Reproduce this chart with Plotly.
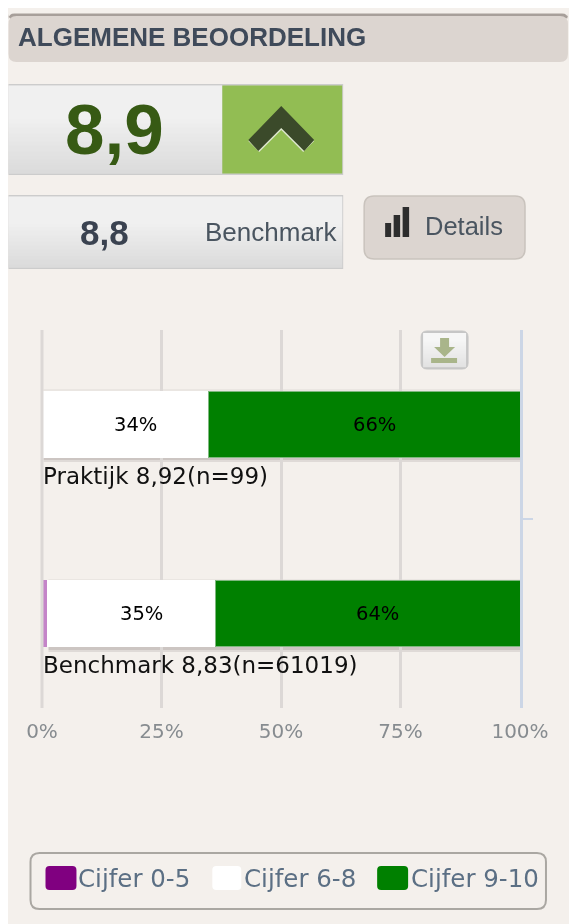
import plotly.graph_objects as go

categories = ["Praktijk", "Benchmark"]
category_labels = ["Praktijk 8,92(n=99)", "Benchmark 8,83(n=61019)"]
low = [0, 1.2]
mid = [34.9, 35.0]
high = [65.1, 63.8]
mid_labels = ["34%", "35%"]
high_labels = ["66%", "64%"]
x_ticks = [0, 25, 50, 75, 100]
x_tick_labels = ["0%", "25%", "50%", "75%", "100%"]
legend_names = ["Cijfer 0-5", "Cijfer 6-8", "Cijfer 9-10"]
legend_colors = ["#800080", "#ffffff", "#008000"]

OX, OY = 8, 8
W, H = 600, 940
PL, PR, PT, PB = 41.5, 520, 330, 708
ml, mt = PL - OX, PT - OY
pw, ph = PR - PL, PB - PT
BG = "#f4f0ec"


def X(p):
    return (p - PL) / pw


def Y(p):
    return 1 - (p - PT) / ph


shapes, ann = [], []


def rect(x0, y0, x1, y1, fill, line=None, lw=1, layer="below"):
    shapes.append(dict(type="rect", xref="paper", yref="paper", x0=X(x0), x1=X(x1), y0=Y(y0), y1=Y(y1),
                       fillcolor=fill, line=dict(color=line or "rgba(0,0,0,0)", width=lw if line else 0), layer=layer))


def path(points, fill, layer="above"):
    d = "M" + " L".join(f"{X(a):.5f},{Y(b):.5f}" for a, b in points) + " Z"
    shapes.append(dict(type="path", xref="paper", yref="paper", path=d, fillcolor=fill,
                       line=dict(width=0), layer=layer))


def round_rect(x0, y0, x1, y1, r, fill, line=None, lw=1, layer="below"):
    a = lambda p: f"{X(p):.5f}"
    b = lambda p: f"{Y(p):.5f}"
    d = (f"M{a(x0+r)},{b(y0)} L{a(x1-r)},{b(y0)} Q{a(x1)},{b(y0)} {a(x1)},{b(y0+r)} "
         f"L{a(x1)},{b(y1-r)} Q{a(x1)},{b(y1)} {a(x1-r)},{b(y1)} L{a(x0+r)},{b(y1)} "
         f"Q{a(x0)},{b(y1)} {a(x0)},{b(y1-r)} L{a(x0)},{b(y0+r)} Q{a(x0)},{b(y0)} {a(x0+r)},{b(y0)} Z")
    shapes.append(dict(type="path", xref="paper", yref="paper", path=d, fillcolor=fill,
                       line=dict(color=line or "rgba(0,0,0,0)", width=lw if line else 0), layer=layer))


def gradient(x0, y0, x1, y1, top=(246, 246, 246), bottom=(221, 221, 221), start=0.35, layer="below"):
    n = int(y1 - y0)
    for i in range(n):
        t = max(0, (i / max(n - 1, 1) - start) / (1 - start))
        c = tuple(round(top[k] + (bottom[k] - top[k]) * t) for k in range(3))
        rect(x0, y0 + i, x1, y0 + i + 1.2, f"rgb{c}", layer=layer)


def text(x, y, s, size, color, family="Liberation Sans", anchor="left", bold=False):
    ann.append(dict(xref="paper", yref="paper", x=X(x), y=Y(y), text=f"<b>{s}</b>" if bold else s,
                    showarrow=False, xanchor=anchor, yanchor="middle", borderpad=0,
                    font=dict(size=size, color=color, family=family)))


# Header
round_rect(8, 13.5, 568, 20, 6, "#a79f9a")
round_rect(8, 16, 568, 62, 8, "#dcd5d0")
text(16, 37, "ALGEMENE BEOORDELING", 26, "#3f4a5a", bold=True)

# Score box
rect(8, 84, 343, 175, "#cccccc")
gradient(8, 85.5, 222, 173.5)
rect(222, 85.5, 342, 173.5, "#92bd53")
text(114.5, 129, "8,9", 71, "#375a14", anchor="center", bold=True)
path([(248, 141), (259, 152), (281, 130), (303, 152), (314, 141), (281, 108)], "#dfe8cf")
path([(248, 140), (258, 151), (281, 128), (304, 151), (314, 140), (281, 106)], "#3b4a2a")

# Benchmark box
rect(8, 195, 343, 269, "#cccccc")
gradient(8, 196.5, 342, 267.5)
text(104.5, 233, "8,8", 35, "#3a4250", anchor="center", bold=True)
text(203.5, 232, "Benchmark", 26, "#4a5560")

# Details button
round_rect(364, 196, 525, 259, 10, "#dcd5d0", "#c9c3bd", 1.5)
rect(385, 223, 391, 237, "#2d2d2d")
rect(393.5, 215, 400, 237, "#2d2d2d")
rect(402.5, 207, 409, 237, "#2d2d2d")
text(423.5, 226, "Details", 25.5, "#4a5560")

# Bar shadows
for top, left in ((391, 43), (581, 48)):
    rect(left, top, 520, top + 69, "rgba(120,105,105,0.32)")
    rect(left, top + 69, 520, top + 71, "rgba(120,105,105,0.16)")
    rect(left, top - 2, 520, top, "rgba(120,105,105,0.07)")

# 0% axis edge, beside the bars as in the reference
rect(40, 330, 43, 708, "#dcd8d6", layer="above")

# Export button
round_rect(421, 331, 468, 369, 6, "#c6c6c6", "#c6c6c6", 1, layer="above")
gradient(423, 333, 466, 367, (246, 246, 246), (226, 226, 226), 0.2, layer="above")
path([(440, 338), (449, 338), (449, 347), (455, 347), (444.5, 357), (434, 347), (440, 347)], "#a9b58a")
path([(431, 358), (457, 358), (457, 363), (431, 363)], "#a9b58a")

# Legend
round_rect(30, 853, 546, 909, 9, BG, "#aaa7a2", 2)
swatches = [(45, 76), (212, 241), (377, 408)]
label_x = [77, 243, 410]
for name, color, (a, b), lx in zip(legend_names, legend_colors, swatches, label_x):
    round_rect(a, 866, b, 890, 4, color, layer="above")
    text(lx, 878, name, 24.5, "#5b6f84", family="DejaVu Sans")

# Labels from data
for i, lab in enumerate(category_labels):
    ann.append(dict(x=0, y=categories[i], xref="x", yref="y", text=lab, showarrow=False, xanchor="left",
                    yanchor="middle", xshift=-1, yshift=-51,
                    font=dict(size=23, color="#111111", family="DejaVu Sans")))
    for base, val, s in ((low[i], mid[i], mid_labels[i]), (low[i] + mid[i], high[i], high_labels[i])):
        ann.append(dict(x=base + val / 2, y=categories[i], xref="x", yref="y", text=s, showarrow=False,
                        xshift=10, font=dict(size=19.5, color="#000000", family="DejaVu Sans")))

fig = go.Figure()
for vals, col, name, line in ((low, "#c484c8", legend_names[0], "#c484c8"),
                              (mid, "#ffffff", legend_names[1], "#ffffff"),
                              (high, "#008000", legend_names[2], "#7fb87f")):
    fig.add_trace(go.Bar(y=categories, x=vals, name=name, orientation="h", width=0.354,
                         marker=dict(color=col, line=dict(color=line, width=1))))

fig.update_layout(
    barmode="stack", width=W, height=H, showlegend=False,
    margin=dict(l=ml, r=W - ml - pw, t=mt, b=H - mt - ph, pad=0),
    paper_bgcolor=BG, plot_bgcolor=BG,
    shapes=shapes, annotations=ann,
    xaxis=dict(range=[0, 100], tickvals=x_ticks, ticktext=x_tick_labels, showgrid=True,
               gridcolor="#dcd8d6", gridwidth=3, zeroline=False, ticks="", ticklabelstandoff=9,
               tickfont=dict(size=20, color="#878c90", family="DejaVu Sans")),
    yaxis=dict(range=[1.5, -0.5], side="right", showgrid=False, zeroline=False, showline=True,
               linecolor="#ccd6e6", linewidth=3, ticks="outside", ticklen=10, tickwidth=1.5, tickcolor="#ccd6e6",
               tickmode="array", tickvals=[0.5], ticktext=[""], showticklabels=False, type="category",
               categoryorder="array", categoryarray=categories),
)
fig.write_html("out.html", config=dict(displayModeBar=False),
               post_script="document.documentElement.style.overflow='hidden';"
                           "document.querySelector('.js-plotly-plot').style.filter='blur(0.5px)';")
